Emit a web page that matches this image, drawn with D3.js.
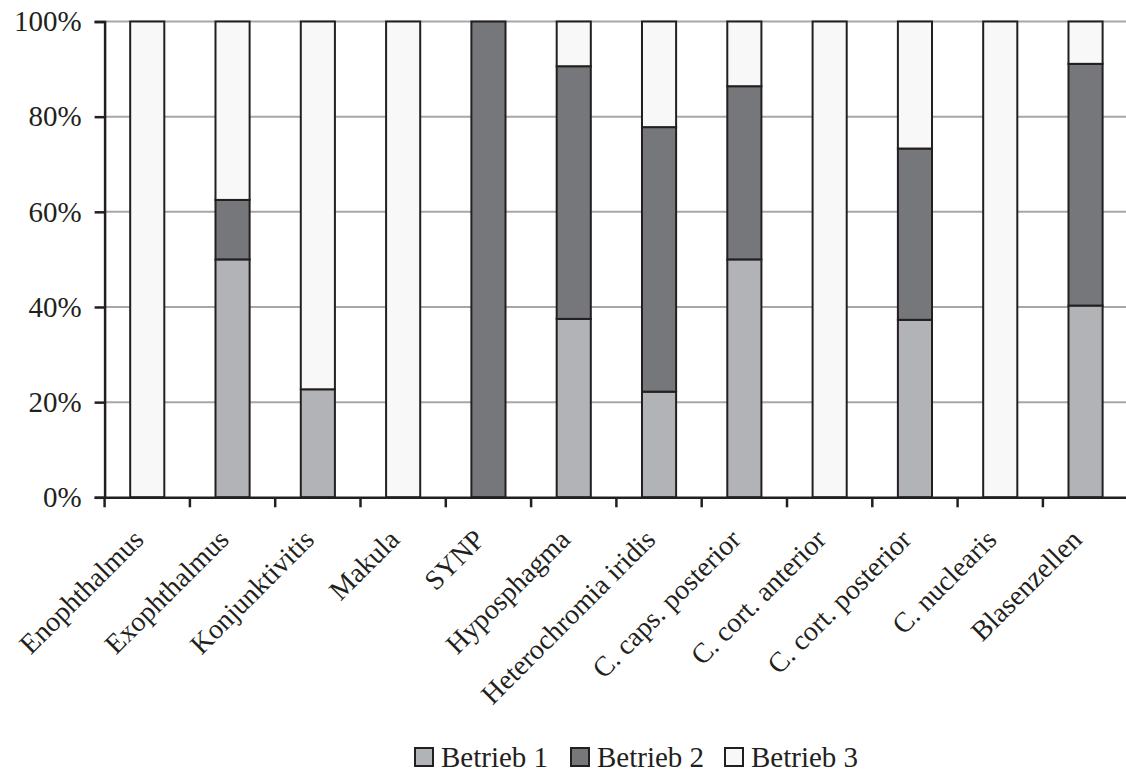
<!DOCTYPE html>
<html>
<head>
<meta charset="utf-8">
<script src="https://cdn.jsdelivr.net/npm/d3@7"></script>
<style>
  html, body { margin: 0; padding: 0; background: #ffffff; }
  svg { display: block; }
  text { font-family: "Liberation Serif", "Times New Roman", serif; fill: #231f20; }
</style>
</head>
<body>
<div id="chart"></div>
<script>
const categories = ["Enophthalmus", "Exophthalmus", "Konjunktivitis", "Makula", "SYNP", "Hyposphagma",
  "Heterochromia iridis", "C. caps. posterior", "C. cort. anterior", "C. cort. posterior", "C. nuclearis", "Blasenzellen"];
const seriesNames = ["Betrieb 1", "Betrieb 2", "Betrieb 3"];
const betrieb1 = [0, 50, 22.7, 0, 0, 37.5, 22.2, 50, 0, 37.3, 0, 40.3];
const betrieb2 = [0, 12.5, 0, 0, 100, 53.1, 55.6, 36.4, 0, 36.0, 0, 50.8];
const betrieb3 = [100, 37.5, 77.3, 100, 0, 9.4, 22.2, 13.6, 100, 26.7, 100, 8.9];
const yTicks = [0, 20, 40, 60, 80, 100];
const colors = ["#b2b3b6", "#76777b", "#f8f8f8"];

const W = 1126, H = 776;
const x0 = 104.6, x1 = 1128.2, yTop = 21.5, yBot = 497.3;

const svg = d3.select("#chart").append("svg").attr("width", W).attr("height", H);

const x = d3.scaleBand().domain(categories).range([x0, x1]).paddingInner(0.6).paddingOuter(0.3);
const xOuter = d3.scaleBand().domain(categories).range([x0, x1]);
const y = d3.scaleLinear().domain([0, 100]).range([yBot, yTop]);

// gridlines
svg.append("g").selectAll("line").data(yTicks.filter(d => d > 0)).join("line")
  .attr("x1", x0).attr("x2", W).attr("y1", d => y(d)).attr("y2", d => y(d))
  .attr("stroke", "#a7a7aa").attr("stroke-width", 2);

// stacked data
const table = categories.map((c, i) => ({ cat: c, "Betrieb 1": betrieb1[i], "Betrieb 2": betrieb2[i], "Betrieb 3": betrieb3[i] }));
const stack = d3.stack().keys(seriesNames)(table);

svg.append("g").selectAll("g").data(stack).join("g")
  .attr("fill", (d, i) => colors[i])
  .selectAll("rect").data(d => d.filter(p => p[1] - p[0] > 0)).join("rect")
  .attr("x", d => x(d.data.cat))
  .attr("width", x.bandwidth())
  .attr("y", d => y(d[1]))
  .attr("height", d => y(d[0]) - y(d[1]))
  .attr("stroke", "#231f20").attr("stroke-width", 2);

// y axis
const yAxis = svg.append("g").attr("transform", `translate(${x0},0)`)
  .call(d3.axisLeft(y).tickValues(yTicks).tickFormat(d => d + "%").tickSize(10).tickPadding(13));
yAxis.select(".domain").attr("stroke", "#231f20").attr("stroke-width", 2.5);
yAxis.selectAll(".tick line").attr("stroke", "#231f20").attr("stroke-width", 2.5);
yAxis.selectAll("text").attr("font-size", 29).attr("font-family", "Liberation Serif").attr("fill", "#231f20");

// x axis
const xAxis = svg.append("g").attr("transform", `translate(0,${yBot})`)
  .call(d3.axisBottom(xOuter).tickSize(0).tickFormat(""));
xAxis.select(".domain").attr("stroke", "#231f20").attr("stroke-width", 2.5);
svg.append("g").selectAll("line").data(categories).join("line")
  .attr("x1", d => xOuter(d)).attr("x2", d => xOuter(d))
  .attr("y1", yBot).attr("y2", yBot + 10)
  .attr("stroke", "#231f20").attr("stroke-width", 2.5);

// x labels
svg.append("g").selectAll("text").data(categories).join("text")
  .attr("transform", d => `translate(${xOuter(d) + xOuter.bandwidth() / 2 - 9},${yBot + 37}) rotate(-45)`)
  .attr("text-anchor", "end")
  .attr("dy", "0.35em")
  .attr("font-size", 28)
  .text(d => d);

// legend
const legendX = [415, 571, 725];
const lg = svg.append("g").selectAll("g").data(seriesNames).join("g")
  .attr("transform", (d, i) => `translate(${legendX[i]},${757})`);
lg.append("rect").attr("x", 0).attr("y", -9).attr("width", 18).attr("height", 18)
  .attr("fill", (d, i) => colors[i]).attr("stroke", "#231f20").attr("stroke-width", 2);
lg.append("text").attr("x", 26).attr("y", 0).attr("dy", "0.35em").attr("font-size", 29).text(d => d);
</script>
</body>
</html>
